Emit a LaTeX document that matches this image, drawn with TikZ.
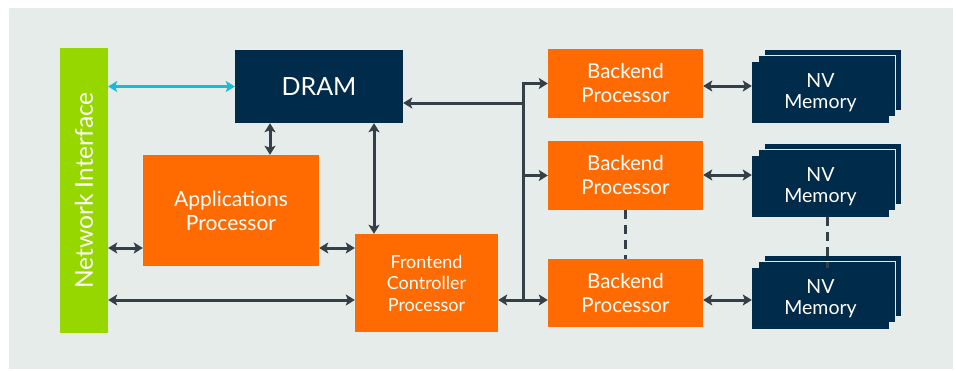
\documentclass[tikz,border=0pt]{standalone}
\usepackage{fontspec}
\setmainfont{Lato}
\usetikzlibrary{arrows.meta,calc}
\definecolor{bgc}{HTML}{E6ECEA}
\definecolor{orng}{HTML}{FF6B00}
\definecolor{navy}{HTML}{002B4A}
\definecolor{grn}{HTML}{97D700}
\definecolor{cyn}{HTML}{14BDDB}
\definecolor{arr}{HTML}{343F48}
\tikzset{
  box/.style={inner sep=0pt, text=white, align=center, anchor=center},
  obox/.style={box, fill=orng},
  nbox/.style={box, fill=navy},
  layer/.style={fill=navy, draw=bgc, line width=0.9pt},
  conn/.style={draw=arr, line width=3pt, {Stealth[length=9pt,width=11pt,inset=2pt]}-{Stealth[length=9pt,width=11pt,inset=2pt]}},
  oneway/.style={draw=arr, line width=3pt, -{Stealth[length=9pt,width=11pt,inset=2pt]}},
  plain/.style={draw=arr, line width=3pt},
  dashline/.style={draw=arr, line width=3pt, dash pattern=on 9pt off 6pt},
}
\newcommand{\nvstack}[3]{%
  \draw[layer] ({#1-68.5+12},{#2-30.5-13}) rectangle ({#1+68.5+12},{#2+30.5-13});
  \draw[layer] ({#1-68.5+6},{#2-30.5-6.5}) rectangle ({#1+68.5+6},{#2+30.5-6.5});
  \node[nbox, minimum width=137pt, minimum height=61pt, font=\fontsize{19.5}{21}\selectfont] (#3) at (#1,#2) {NV\\Memory};
}
\begin{document}
\begin{tikzpicture}[x=1pt,y=-1pt]
\useasboundingbox (0,0) rectangle (956,370);
\fill[bgc] (9,8) rectangle (953,369);

\node[box, fill=grn, minimum width=48pt, minimum height=285pt] (ni) at (84,190.5) {};
\node[text=white, rotate=90, font=\fontsize{24.5}{28}\selectfont] (nitxt) at (ni.center) {Network Interface};

\node[nbox, minimum width=168pt, minimum height=73pt, font=\fontsize{25}{29}\selectfont] (dram) at (319,86.5) {DRAM};
\node[obox, minimum width=176pt, minimum height=111pt, font=\fontsize{21}{24}\selectfont] (app) at (231,210.5) {Applications\\Processor};
\node[obox, minimum width=143pt, minimum height=98pt, font=\fontsize{18}{21.5}\selectfont] (fe) at (426.5,283) {Frontend\\Controller\\Processor};

\node[obox, minimum width=155pt, minimum height=69pt, font=\fontsize{20.5}{24}\selectfont] (be1) at (625.5,83.5) {Backend\\Processor};
\node[obox, minimum width=155pt, minimum height=69pt, font=\fontsize{20.5}{24}\selectfont] (be2) at (625.5,175.5) {Backend\\Processor};
\node[obox, minimum width=155pt, minimum height=68pt, font=\fontsize{20.5}{24}\selectfont] (be3) at (625.5,293) {Backend\\Processor};

\nvstack{820.5}{92.5}{nv1}
\nvstack{820.5}{186.5}{nv2}
\nvstack{820.5}{298.5}{nv3}

% connectors
\draw[draw=cyn, line width=2.8pt, {Stealth[length=9pt,width=11pt,inset=2pt]}-{Stealth[length=9pt,width=11pt,inset=2pt]}] (ni.east |- dram.west) -- (dram.west);
\draw[conn] (dram.south -| 270,0) -- (app.north -| 270,0);
\draw[conn] (dram.south -| 374,0) -- (fe.north -| 374,0);
\draw[conn] (ni.east |- 0,248) -- (app.west |- 0,248);
\draw[conn] (app.east |- 0,248) -- (fe.west |- 0,248);
\draw[conn] (ni.east |- 0,300) -- (fe.west |- 0,300);

\coordinate (bustop) at (523,83.5);
\coordinate (busbot) at (523,300);
\coordinate (busdram) at (523,103);
\coordinate (busmid) at (523,175.5);
\draw[conn] (fe.east |- busbot) -- (be3.west |- busbot);
\draw[plain, line cap=rect] (busbot) -- (bustop);
\draw[oneway] (bustop) -- (be1.west);
\draw[oneway] (busmid) -- (be2.west);
\draw[oneway] (busdram) -- (dram.east |- busdram);

\draw[conn] (be1.east |- 0,86) -- (nv1.west |- 0,86);
\draw[conn] (be2.east |- 0,175) -- (nv2.west |- 0,175);
\draw[conn] (be3.east |- 0,300) -- (nv3.west |- 0,300);

\draw[dashline] (be2.south) -- (be3.north);
\draw[dashline] (nv2.south -| 827,0) -- (nv3.north -| 827,0);
\end{tikzpicture}
\end{document}
